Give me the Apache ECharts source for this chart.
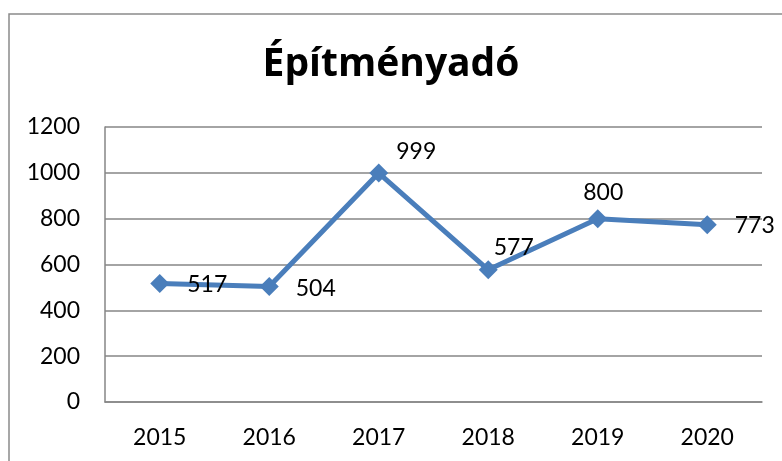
<!DOCTYPE html>
<html>
<head>
<meta charset="utf-8">
<script src="https://cdn.jsdelivr.net/npm/echarts@6/dist/echarts.min.js"></script>
<style>
  html, body { margin: 0; padding: 0; background: #fff; }
  #chart { width: 782px; height: 461px; }
</style>
</head>
<body>
<div id="chart"></div>
<script>
const years = ["2015", "2016", "2017", "2018", "2019", "2020"];
const values = [517, 504, 999, 577, 800, 773];
const yTicks = [0, 200, 400, 600, 800, 1000, 1200];

// label nudges (Excel places them by hand)
const labelOffsets = [[0, 1], [-1, 2], [-10, -21], [-22, -22], [-42, -26], [0, 1]];

const chart = echarts.init(document.getElementById("chart"));

chart.setOption({
  animation: false,
  textStyle: { fontFamily: "Lato" },
  title: {
    text: "Építményadó",
    left: "center",
    top: 40,
    textStyle: { fontFamily: "Open Sans", fontWeight: "bold", fontSize: 39, color: "#000" },
  },
  graphic: [{
    type: "rect",
    shape: { x: 9, y: 14, width: 820, height: 500 },
    style: { fill: "none", stroke: "#8a8a8a", lineWidth: 1.5 },
    silent: true,
  }],
  grid: { left: 105, right: 20, top: 127, bottom: 59 },
  xAxis: {
    type: "category",
    data: years,
    boundaryGap: true,
    axisLine: { lineStyle: { color: "#868686", width: 1.5 } },
    axisTick: { show: false },
    axisLabel: { color: "#000", fontSize: 23, margin: 24 },
  },
  yAxis: {
    type: "value",
    min: yTicks[0],
    max: yTicks[yTicks.length - 1],
    interval: 200,
    axisLine: { show: true, lineStyle: { color: "#868686", width: 1.5 } },
    axisTick: { show: false },
    axisLabel: { color: "#000", fontSize: 23, margin: 25, formatter: (v) => String(v) },
    splitLine: { lineStyle: { color: "#868686", width: 1.5 } },
  },
  series: [{
    type: "line",
    data: values.map((v, i) => ({
      value: v,
      label: { offset: labelOffsets[i] },
    })),
    symbol: "diamond",
    symbolSize: 19,
    lineStyle: { color: "#4A7EBB", width: 5 },
    itemStyle: { color: "#4A7EBB" },
    label: {
      show: true,
      position: "right",
      distance: 18,
      color: "#000",
      fontSize: 23,
      fontFamily: "Lato",
    },
  }],
});
</script>
</body>
</html>
